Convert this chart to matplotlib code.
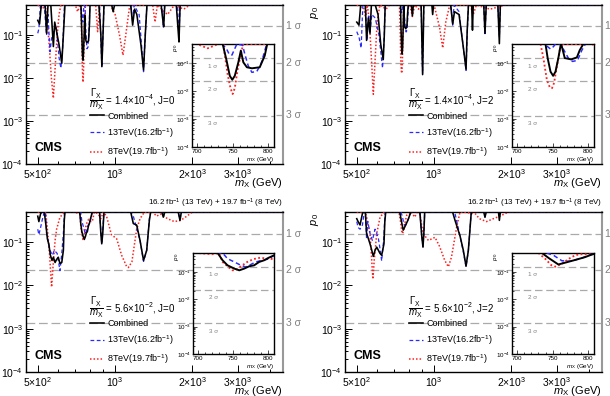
import numpy as np
import matplotlib
matplotlib.use("Agg")
import matplotlib.pyplot as plt
import matplotlib.transforms as mtransforms
from matplotlib.ticker import FixedLocator, FixedFormatter, LogLocator, NullFormatter

plt.rcParams['font.family'] = ['Liberation Sans', 'DejaVu Sans']
plt.rcParams['mathtext.fontset'] = 'custom'
plt.rcParams['mathtext.rm'] = 'Liberation Sans'
plt.rcParams['mathtext.it'] = 'Liberation Sans:italic'
plt.rcParams['mathtext.bf'] = 'Liberation Sans:bold'

# (mass [GeV], p0), one list per curve and panel
A_COMB = [(500,0.22),(508,0.18),(516,0.5),(534,0.5),(541,0.11),(548,0.5),(562,0.5),(575,0.054),(582,0.2),(592,0.12),(605,0.06),(620,0.022),(630,0.12),(638,0.5),(736,0.5),(741,0.145),(746,0.036),(749.5,0.026),(753,0.036),(758,0.11),(761.5,0.29),(765,0.11),(770,0.073),(777,0.067),(788,0.073),(795,0.19),(798.5,0.5),(865,0.5),(880,0.1),(888,0.0184),(897,0.1),(905,0.5),(970,0.5),(982,0.35),(995,0.5),(1150,0.5),(1170,0.17),(1190,0.4),(1215,0.3),(1260,0.06),(1290,0.0154),(1310,0.1),(1330,0.5),(1510,0.5),(1530,0.25),(1545,0.156),(1560,0.5),(1730,0.5),(1760,0.12),(1772,0.069),(1790,0.5),(4500,0.5)]
A_13 = [(500,0.11),(505,0.14),(512,0.5),(530,0.5),(536,0.2),(541,0.1),(548,0.3),(558,0.041),(565,0.08),(575,0.12),(590,0.15),(605,0.03),(615,0.017),(625,0.05),(635,0.5),(735,0.5),(741,0.35),(745,0.22),(749,0.2),(752,0.3),(756,0.5),(764,0.45),(767,0.22),(772,0.08),(777,0.048),(784,0.052),(790,0.1),(796,0.35),(798,0.5),(870,0.5),(880,0.08),(888,0.018),(897,0.1),(905,0.5),(1150,0.5),(1170,0.2),(1185,0.5),(1240,0.3),(1270,0.05),(1290,0.014),(1310,0.1),(1330,0.5),(1520,0.5),(1540,0.15),(1560,0.5),(1750,0.5),(1770,0.09),(1790,0.5),(4500,0.5)]
A_8 = [(500,0.5),(520,0.4),(535,0.5),(545,0.2),(555,0.05),(565,0.01),(575,0.0034),(585,0.02),(595,0.1),(605,0.3),(615,0.5),(700,0.5),(715,0.35),(730,0.5),(737,0.5),(739,0.2),(743,0.04),(747,0.013),(750,0.008),(753,0.013),(757,0.06),(762,0.25),(765,0.5),(840,0.5),(855,0.12),(870,0.5),(960,0.5),(1000,0.3),(1040,0.1),(1073,0.034),(1100,0.1),(1140,0.5),(1400,0.5),(1430,0.2),(1460,0.5),(1600,0.3),(1700,0.5),(1850,0.4),(1950,0.5),(4500,0.5)]

B_COMB = [(500,0.2),(510,0.17),(518,0.5),(540,0.5),(546,0.075),(555,0.25),(563,0.11),(570,0.5),(590,0.5),(605,0.3),(620,0.06),(634,0.027),(640,0.1),(645,0.5),(740,0.5),(743,0.156),(747,0.051),(750.7,0.036),(754,0.051),(758,0.156),(761.5,0.5),(763,0.4),(767,0.156),(776,0.14),(784,0.165),(788,0.3),(793,0.5),(815,0.5),(823,0.28),(830,0.5),(890,0.5),(902,0.012),(912,0.5),(980,0.5),(987,0.3),(995,0.5),(1160,0.5),(1181,0.18),(1200,0.35),(1250,0.3),(1300,0.05),(1331,0.016),(1345,0.13),(1360,0.5),(1400,0.5),(1410,0.13),(1420,0.5),(1560,0.5),(1577,0.109),(1595,0.5),(1770,0.5),(1794,0.063),(1810,0.5),(4500,0.5)]
B_13 = [(500,0.12),(510,0.09),(520,0.05),(528,0.5),(540,0.5),(548,0.075),(556,0.3),(563,0.11),(572,0.3),(590,0.25),(610,0.1),(630,0.017),(640,0.1),(645,0.5),(740,0.5),(743,0.4),(747,0.33),(751,0.4),(754,0.5),(762,0.5),(765,0.33),(772,0.156),(778,0.118),(785,0.13),(791,0.3),(796,0.5),(890,0.5),(902,0.013),(912,0.5),(1160,0.5),(1181,0.17),(1195,0.5),(1250,0.35),(1300,0.05),(1331,0.015),(1345,0.1),(1360,0.5),(1560,0.5),(1577,0.1),(1595,0.5),(1770,0.5),(1794,0.09),(1810,0.5),(4500,0.5)]
B_8 = [(500,0.5),(520,0.45),(530,0.5),(540,0.27),(550,0.5),(560,0.2),(572,0.02),(580,0.0042),(590,0.03),(600,0.2),(615,0.5),(650,0.4),(670,0.5),(733,0.5),(737,0.156),(742,0.025),(746,0.014),(749,0.0129),(752,0.02),(756,0.08),(760,0.3),(763,0.5),(805,0.5),(823,0.27),(840,0.5),(870,0.4),(890,0.5),(1000,0.5),(1050,0.15),(1080,0.05),(1110,0.2),(1150,0.5),(1380,0.5),(1420,0.3),(1460,0.5),(1650,0.4),(1900,0.5),(4500,0.5)]

C_COMB = [(500,0.4),(505,0.3),(513,0.46),(520,0.5),(530,0.5),(538,0.25),(545,0.12),(552,0.09),(560,0.05),(568,0.038),(575,0.045),(584,0.034),(592,0.04),(601,0.045),(610,0.032),(620,0.034),(629,0.065),(634,0.32),(638,0.5),(728,0.5),(735,0.27),(742,0.177),(751.6,0.134),(758.7,0.116),(765.7,0.134),(772.8,0.163),(779.8,0.177),(786.9,0.235),(793.9,0.27),(800.9,0.34),(808,0.41),(815,0.5),(870,0.5),(880,0.16),(887,0.092),(895,0.16),(905,0.5),(1150,0.5),(1177,0.27),(1213,0.25),(1250,0.11),(1290,0.038),(1327,0.065),(1359,0.32),(1375,0.5),(1520,0.5),(1540,0.38),(1560,0.5),(1760,0.5),(1788,0.32),(1810,0.5),(4500,0.5)]
C_13 = [(500,0.2),(505,0.15),(513,0.22),(520,0.32),(530,0.5),(536,0.5),(541,0.16),(558,0.065),(570,0.05),(580,0.065),(595,0.055),(610,0.022),(620,0.055),(629,0.16),(636,0.5),(735,0.5),(742,0.31),(751.6,0.235),(761,0.177),(768,0.154),(772.8,0.177),(782,0.235),(791,0.27),(800,0.3),(808,0.41),(815,0.5),(870,0.5),(887,0.092),(905,0.5),(1150,0.5),(1177,0.4),(1250,0.11),(1290,0.036),(1327,0.065),(1359,0.35),(1375,0.5),(1520,0.5),(1540,0.4),(1560,0.5),(1760,0.5),(1788,0.34),(1810,0.5),(4500,0.5)]
C_8 = [(500,0.5),(536,0.5),(541,0.32),(547,0.16),(556,0.05),(566,0.0092),(575,0.035),(584,0.11),(592,0.2),(610,0.38),(638,0.5),(700,0.5),(720,0.45),(730,0.5),(735,0.235),(742,0.163),(749,0.116),(754,0.12),(761,0.163),(770,0.235),(779,0.3),(789,0.338),(798,0.31),(808,0.3),(815,0.3),(830,0.5),(860,0.45),(880,0.35),(900,0.5),(926,0.4),(967,0.15),(1014,0.12),(1060,0.05),(1110,0.027),(1126,0.026),(1162,0.035),(1213,0.2),(1250,0.35),(1300,0.5),(1400,0.5),(1450,0.4),(1500,0.45),(1600,0.35),(1700,0.3),(1800,0.32),(1900,0.4),(2000,0.5),(4500,0.5)]

D_COMB = [(500,0.35),(506,0.3),(515,0.25),(526,0.46),(530,0.5),(540,0.5),(546,0.16),(555,0.12),(563,0.092),(572,0.065),(580,0.047),(589,0.065),(598,0.077),(607,0.065),(616,0.055),(625,0.05),(638,0.092),(643,0.3),(648,0.5),(735,0.5),(745,0.32),(758,0.19),(770,0.23),(782,0.28),(795,0.35),(803,0.42),(812,0.5),(880,0.5),(895,0.14),(905,0.077),(912,0.16),(919,0.5),(1180,0.5),(1206,0.32),(1261,0.14),(1299,0.065),(1331,0.028),(1359,0.065),(1387,0.32),(1395,0.5),(1560,0.5),(1577,0.38),(1595,0.5),(1780,0.5),(1794,0.32),(1810,0.5),(4500,0.5)]
D_13 = [(500,0.3),(506,0.22),(515,0.2),(526,0.25),(535,0.5),(540,0.5),(546,0.12),(552,0.3),(563,0.16),(575,0.11),(589,0.2),(598,0.16),(607,0.12),(616,0.07),(625,0.037),(635,0.1),(645,0.5),(742,0.5),(752,0.4),(763,0.26),(775,0.25),(790,0.32),(805,0.45),(815,0.5),(880,0.5),(895,0.14),(905,0.08),(912,0.16),(919,0.5),(1180,0.5),(1206,0.46),(1261,0.14),(1299,0.06),(1331,0.027),(1359,0.065),(1387,0.32),(1395,0.5),(1560,0.5),(1577,0.38),(1595,0.5),(1780,0.5),(1794,0.4),(1810,0.5),(4500,0.5)]
D_8 = [(500,0.5),(540,0.5),(546,0.38),(563,0.16),(575,0.022),(578,0.014),(585,0.04),(598,0.16),(616,0.38),(640,0.5),(730,0.5),(740,0.3),(748,0.18),(753.5,0.158),(763,0.2),(772,0.3),(782,0.42),(790,0.45),(805,0.45),(815,0.5),(840,0.38),(860,0.5),(880,0.45),(905,0.16),(950,0.11),(1008,0.13),(1050,0.08),(1100,0.038),(1136,0.027),(1168,0.045),(1224,0.225),(1261,0.5),(1300,0.5),(1450,0.45),(1500,0.35),(1600,0.3),(1700,0.35),(1800,0.4),(1950,0.5),(4500,0.5)]

WIDTH_TEXT = ['1.4$\\times$10$^{-4}$', '1.4$\\times$10$^{-4}$', '5.6$\\times$10$^{-2}$', '5.6$\\times$10$^{-2}$']
SPIN_TEXT = ['J=0', 'J=2', 'J=0', 'J=2']
SIGMA_P = [0.1587, 0.02275, 0.00135]
SIGMA_LABELS = ['1 \u03c3', '2 \u03c3', '3 \u03c3']
X_TICKS = [500, 1000, 2000, 3000]
X_TICK_LABELS = ['5$\\times$10$^{2}$', '10$^{3}$', '2$\\times$10$^{3}$', '3$\\times$10$^{3}$']
LEGEND_LABELS = ['Combined', '13TeV(16.2fb$^{-1}$)', '8TeV(19.7fb$^{-1}$)']
LUMI_TEXT = '16.2 fb$^{-1}$ (13 TeV) + 19.7 fb$^{-1}$ (8 TeV)'

W, H = 610, 396
# pixel boxes: (left, top, width, height)
MAIN_BOXES = [(26, 5, 257, 159), (345, 5, 257, 159), (26, 212, 257, 160), (345, 212, 257, 160)]
INSET_BOXES = [(192, 44, 82, 103), (512, 44, 82, 103), (193, 253, 81, 101), (512, 253, 82, 101)]

SIG_COLOR = '#aaaaaa'
SIG_TEXT = '#808080'


def to_rect(box):
    l, t, w, h = box
    return [l / W, (H - t - h) / H, w / W, h / H]


def draw_curves(ax, curves, lw_scale=1.0):
    comb, t13, t8 = [np.array(c).T for c in curves]
    l8, = ax.plot(t8[0], t8[1], color='#ff2020', ls=(0, (1, 1.3)), lw=1.1 * lw_scale, zorder=3)
    l13, = ax.plot(t13[0], t13[1], color='#2a2aff', ls=(0, (3, 2)), lw=0.9 * lw_scale, zorder=4)
    lc, = ax.plot(comb[0], comb[1], color='black', lw=1.15 * lw_scale, zorder=5)
    return lc, l13, l8


def draw_panel(fig, i, curves):
    ax = fig.add_axes(to_rect(MAIN_BOXES[i]))
    ax.set_xscale('log')
    ax.set_yscale('log')
    ax.set_xlim(450, 4500)
    ax.set_ylim(1e-4, 0.5)
    for p in SIGMA_P:
        ax.axhline(p, color=SIG_COLOR, lw=0.9, ls=(0, (7, 3)), zorder=1)
    trans = mtransforms.blended_transform_factory(ax.transAxes, ax.transData)
    for p, lab in zip(SIGMA_P, SIGMA_LABELS):
        ax.text(1.01, p, lab, transform=trans, ha='left', va='center', fontsize=7.5,
                color=SIG_TEXT, clip_on=False)
    handles = draw_curves(ax, curves)

    ax.xaxis.set_major_locator(FixedLocator(X_TICKS))
    ax.xaxis.set_major_formatter(FixedFormatter(X_TICK_LABELS))
    ax.xaxis.set_minor_locator(LogLocator(base=10, subs=np.arange(2, 10)))
    ax.xaxis.set_minor_formatter(NullFormatter())
    ax.yaxis.set_major_locator(LogLocator(base=10, numticks=10))
    ax.yaxis.set_minor_locator(LogLocator(base=10, subs=np.arange(2, 10), numticks=10))
    ax.yaxis.set_minor_formatter(NullFormatter())
    ax.tick_params(which='both', direction='in', labelsize=7.5, pad=2, width=0.7)
    ax.tick_params(which='major', length=5)
    ax.tick_params(which='minor', length=2.5)
    for s in ax.spines.values():
        s.set_linewidth(1.0)
    ax.spines['right'].set_color('#999999')
    ax.spines['right'].set_linewidth(1.5)

    ax.text(1.0, -0.12, '$m_{\\rm X}$ (GeV)', transform=ax.transAxes, ha='right', va='center',
            fontsize=8)
    ax.text(-0.115, 1.0, '$p_{\\,0}$', transform=ax.transAxes, rotation=90, ha='center',
            va='top', fontsize=8)
    ax.text(1.0, 1.012, LUMI_TEXT, transform=ax.transAxes, ha='right', va='bottom', fontsize=5.8)
    ax.text(0.035, 0.1, 'CMS', transform=ax.transAxes, fontsize=9, fontweight='bold',
            ha='left', va='center')
    ax.text(0.245, 0.405,
            '$\\dfrac{\\mathit{\\Gamma}_{\\rm X}}{m_{\\rm X}}$ = ' + WIDTH_TEXT[i] + ', ' + SPIN_TEXT[i],
            transform=ax.transAxes, fontsize=7, ha='left', va='center')
    ax.legend(handles, LEGEND_LABELS, loc='upper left', bbox_to_anchor=(0.25, 0.33),
              frameon=False, fontsize=6.5, handlelength=1.5, handletextpad=0.4,
              labelspacing=0.6, borderaxespad=0, borderpad=0)

    # zoomed inset around 750 GeV
    ins = fig.add_axes(to_rect(INSET_BOXES[i]))
    ins.set_yscale('log')
    ins.set_xlim(693, 808)
    ins.set_ylim(1e-4, 0.5)
    for p, lab in zip(SIGMA_P, SIGMA_LABELS):
        ins.axhline(p, color=SIG_COLOR, lw=0.9, ls=(0, (6, 3)), zorder=1)
        ins.text(0.2, p * 0.5, lab, transform=mtransforms.blended_transform_factory(ins.transAxes, ins.transData),
                 fontsize=4.5, color=SIG_TEXT, ha='left', va='center')
    draw_curves(ins, curves, lw_scale=1.2)
    ins.set_xticks([700, 750, 800])
    ins.xaxis.set_minor_locator(FixedLocator(np.arange(700, 810, 10)))
    ins.yaxis.set_major_locator(LogLocator(base=10, numticks=10))
    ins.yaxis.set_minor_locator(LogLocator(base=10, subs=np.arange(2, 10), numticks=10))
    ins.yaxis.set_minor_formatter(NullFormatter())
    ins.tick_params(which='both', direction='in', labelsize=4.5, pad=1.5, width=0.5)
    ins.tick_params(which='major', length=3)
    ins.tick_params(which='minor', length=1.5)
    for s in ins.spines.values():
        s.set_linewidth(1.0)
    ins.set_xlabel('$m_{\\rm X}$ (GeV)', fontsize=4.5, loc='right', labelpad=1)
    ins.text(-0.2, 1.0, '$p_{\\,0}$', transform=ins.transAxes, rotation=90, ha='center',
             va='top', fontsize=4.5)


fig = plt.figure(figsize=(W / 100, H / 100), dpi=100)
panels = [(A_COMB, A_13, A_8), (B_COMB, B_13, B_8), (C_COMB, C_13, C_8), (D_COMB, D_13, D_8)]
for i, curves in enumerate(panels):
    draw_panel(fig, i, curves)

fig.savefig('out.png', dpi=100)
